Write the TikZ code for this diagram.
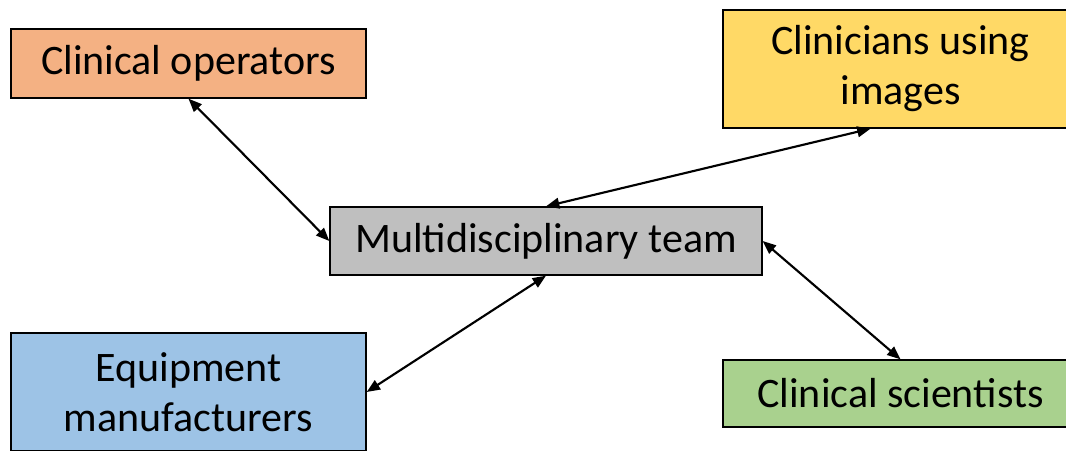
\documentclass[tikz,border=0pt]{standalone}
\usepackage{fontspec}
\setmainfont{Carlito}
\usetikzlibrary{arrows.meta}

\definecolor{opsfill}{RGB}{244,177,131}
\definecolor{clinfill}{RGB}{255,217,102}
\definecolor{mdtfill}{RGB}{191,191,191}
\definecolor{equipfill}{RGB}{157,195,230}
\definecolor{scifill}{RGB}{169,209,142}

\tikzset{every picture/.style={line width=0.75pt}}
\tikzset{
  rolebox/.style={draw=black, line width=1pt, inner sep=0pt, align=center,
    font=\fontsize{31.5}{37.5}\selectfont},
  link/.style={line width=1.6pt, {Triangle[length=10pt,width=8pt]}-{Triangle[length=10pt,width=8pt]}}
}

\begin{document}
\begin{tikzpicture}[x=0.75pt,y=0.75pt,yscale=-1,xscale=1]
\useasboundingbox (0,0) rectangle (1066,450);
\clip (0,0) rectangle (1066,450);

% Boxes
\node (ops) [rolebox, fill=opsfill, minimum width=266.25pt, minimum height=51.75pt] at (188.5,63.5) {Clinical operators};
\node (clin) [rolebox, fill=clinfill, minimum width=266.25pt, minimum height=88.5pt] at (900.5,69) {Clinicians using\\images};
\node (mdt) [rolebox, fill=mdtfill, minimum width=324pt, minimum height=51pt] at (546,241) {Multidisciplinary team};
\node (equip) [rolebox, fill=equipfill, minimum width=266.25pt, minimum height=88.5pt] at (188.5,392) {Equipment\\manufacturers};
\node (sci) [rolebox, fill=scifill, minimum width=266.25pt, minimum height=50.25pt] at (900.5,393.5) {Clinical scientists};

% Links
\draw [link] (ops.south) -- (mdt.west);
\draw [link] (mdt.north) -- ([xshift=-22.5pt]clin.south);
\draw [link] (mdt.south) -- (equip.east);
\draw [link] (mdt.east) -- (sci.north);

\end{tikzpicture}
\end{document}
